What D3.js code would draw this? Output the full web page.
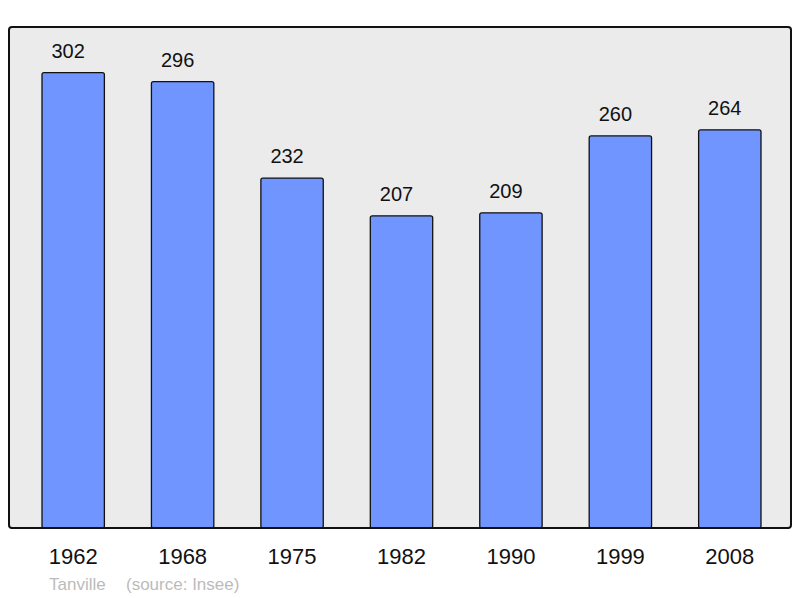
<!DOCTYPE html>
<html><head><meta charset="utf-8">
<script src="https://cdn.jsdelivr.net/npm/d3@7"></script>
<style>body{margin:0;background:#fff}svg{display:block}</style>
</head><body>
<script>
const years = ["1962","1968","1975","1982","1990","1999","2008"];
const population = [302,296,232,207,209,260,264];
const place = "Tanville";
const source = "(source: Insee)";

const W = 800, H = 598;
const svg = d3.select("body").append("svg").attr("width", W).attr("height", H);
const font = "'Liberation Sans', Arial, sans-serif";

const frame = {x0: 9, x1: 791, y0: 27, y1: 528};
svg.append("rect").attr("x", frame.x0).attr("y", frame.y0)
  .attr("width", frame.x1 - frame.x0).attr("height", frame.y1 - frame.y0)
  .attr("rx", 3).attr("fill", "#ebebeb").attr("stroke", "#111").attr("stroke-width", 2);

const x = d3.scaleBand().domain(years).range([42, 761]).paddingInner(0.43).paddingOuter(0);
const y = d3.scaleLinear().domain([0, d3.max(population) * 1.1]).range([frame.y1, frame.y0]);

const data = years.map((yr, i) => ({yr, v: population[i]}));

svg.selectAll("rect.bar").data(data).join("rect").attr("class", "bar")
  .attr("x", d => x(d.yr)).attr("y", d => y(d.v))
  .attr("width", x.bandwidth()).attr("height", d => frame.y1 - y(d.v))
  .attr("rx", 2).attr("fill", "#7095ff").attr("stroke", "#111").attr("stroke-width", 1.3);

// redraw bottom border on top of bars
svg.append("line").attr("x1", frame.x0 + 2).attr("x2", frame.x1 - 2).attr("y1", frame.y1).attr("y2", frame.y1)
  .attr("stroke", "#111").attr("stroke-width", 2);

svg.selectAll("text.val").data(data).join("text").attr("class", "val")
  .attr("x", d => x(d.yr) + x.bandwidth() / 2 - 5).attr("y", d => y(d.v) - 15)
  .attr("text-anchor", "middle").attr("font-family", font).attr("font-size", 20)
  .attr("fill", "#111").text(d => d.v);

const xAxis = d3.axisBottom(x).tickSize(0).tickPadding(0);
const ax = svg.append("g").attr("transform", `translate(0,${frame.y1})`).call(xAxis);
ax.select(".domain").remove();
ax.selectAll("text").attr("font-family", font).attr("font-size", 22).attr("fill", "#111")
  .attr("dy", null).attr("y", 36);

svg.append("text").attr("x", 49).attr("y", 590).attr("font-family", font).attr("font-size", 17)
  .attr("fill", "#bbbbbb").text(place);
svg.append("text").attr("x", 126).attr("y", 590).attr("font-family", font).attr("font-size", 17)
  .attr("fill", "#bbbbbb").text(source);
</script>
</body></html>
